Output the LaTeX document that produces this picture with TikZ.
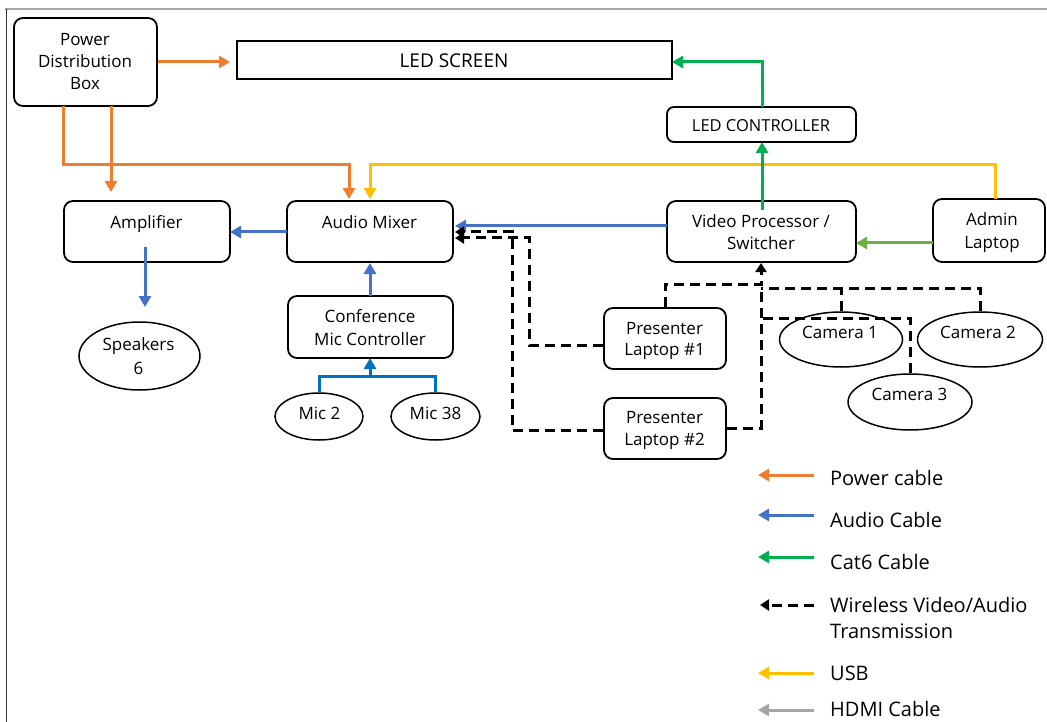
\documentclass[tikz,border=0pt]{standalone}
\usepackage{fontspec}
\setmainfont{Open Sans}
\usetikzlibrary{arrows.meta,shapes.geometric}
\definecolor{cpow}{HTML}{ED7D31}
\definecolor{caud}{HTML}{4472C4}
\definecolor{cmic}{HTML}{0070C0}
\definecolor{ccat}{HTML}{00B050}
\definecolor{clg}{HTML}{70AD47}
\definecolor{cusb}{HTML}{FFC000}
\definecolor{chdmi}{HTML}{A5A5A5}
\begin{document}
\begin{tikzpicture}[x=1pt,y=-1pt,
  box/.style={draw=black,line width=1.8pt,rounded corners=9pt,inner sep=0pt},
  ell/.style={draw=black,line width=1.5pt,ellipse,inner sep=0pt},
  txt/.style={font=\fontsize{17}{22}\selectfont,anchor=base,inner sep=0pt},
  lgt/.style={font=\fontsize{20}{26}\selectfont,anchor=base west,inner sep=0pt},
  tip/.style={-{Triangle[length=11pt,width=12pt]}},
  con/.style={line width=3pt,tip},
  pw/.style={con,draw=cpow},
  au/.style={con,draw=caud},
  mc/.style={line width=3pt,draw=cmic},
  ct/.style={con,draw=ccat},
  lg/.style={con,draw=clg},
  us/.style={con,draw=cusb},
  hd/.style={con,draw=chdmi},
  wl/.style={line width=3pt,draw=black,dash pattern=on 10pt off 6pt},
  wla/.style={wl,-{Triangle[length=9pt,width=11pt]}}]
\useasboundingbox (0,0) rectangle (1047,722);
% frame
\draw[line width=2pt,draw=black!35] (5,9) -- (1047,9);
\draw[line width=1pt,draw=black!80] (6,9) -- (6,722);

% boxes
\node[box,minimum width=143pt,minimum height=88pt] (pdb) at (85.5,62) {};
\node[txt] (pdbt1) at (85,45.7) {Power};
\node[txt] (pdbt2) at (85,67.7) {Distribution};
\node[txt] (pdbt3) at (85,89.7) {Box};

\node[draw=black,line width=1.8pt,inner sep=0pt,minimum width=435pt,minimum height=38pt] (led) at (454.5,60) {};
\node[txt,font=\fontsize{19}{22}\selectfont] (ledt) at (454,67.5) {LED SCREEN};

\node[box,rounded corners=7pt,minimum width=189pt,minimum height=35pt] (ctrl) at (761.5,124.5) {};
\node[txt,font=\fontsize{16.5}{22}\selectfont] (ctrlt) at (761,132) {LED CONTROLLER};

\node[box,minimum width=166pt,minimum height=61pt] (amp) at (147,231.5) {};
\node[txt] (ampt) at (146.5,229) {Amplifier};

\node[box,minimum width=166pt,minimum height=61pt] (mix) at (370,231.5) {};
\node[txt] (mixt) at (369.5,229) {Audio Mixer};

\node[box,minimum width=189pt,minimum height=61pt] (vp) at (761.5,231.5) {};
\node[txt] (vpt1) at (761,227.7) {Video Processor /};
\node[txt] (vpt2) at (761,250) {Switcher};

\node[box,minimum width=112pt,minimum height=63pt] (adm) at (989,230.5) {};
\node[txt] (admt1) at (992,226) {Admin};
\node[txt] (admt2) at (992,248) {Laptop};

\node[box,minimum width=165pt,minimum height=62pt] (cmc) at (370.5,327) {};
\node[txt] (cmct1) at (370,322.7) {Conference};
\node[txt] (cmct2) at (370,345) {Mic Controller};

\node[box,minimum width=122pt,minimum height=61pt] (pl1) at (665,338.5) {};
\node[txt] (pl1t1) at (664.5,334) {Presenter};
\node[txt] (pl1t2) at (664.5,355.7) {Laptop \#1};

\node[box,minimum width=122pt,minimum height=61pt] (pl2) at (665,428.5) {};
\node[txt] (pl2t1) at (664.5,423.3) {Presenter};
\node[txt] (pl2t2) at (664.5,445.7) {Laptop \#2};

% ellipses
\node[ell,minimum width=121pt,minimum height=68pt] (spk) at (139.5,356) {};
\node[txt] (spkt1) at (138.5,350.7) {Speakers};
\node[txt] (spkt2) at (138.5,374) {6};

\node[ell,minimum width=88pt,minimum height=47pt] (m2) at (319,416.5) {};
\node[txt] (m2t) at (319.5,419) {Mic 2};
\node[ell,minimum width=89pt,minimum height=47pt] (m38) at (435.5,416.5) {};
\node[txt] (m38t) at (435.5,419) {Mic 38};

\node[ell,minimum width=123pt,minimum height=55pt] (cam1) at (841,339.5) {};
\node[txt] (cam1t) at (840,338.3) {Camera 1};
\node[ell,minimum width=125pt,minimum height=55pt] (cam2) at (980,339.5) {};
\node[txt] (cam2t) at (978,338.3) {Camera 2};
\node[ell,minimum width=124pt,minimum height=56pt] (cam3) at (910,402) {};
\node[txt] (cam3t) at (909.5,400.7) {Camera 3};

% coordinates
\coordinate (ledin) at (230,62);
\coordinate (pdbA) at (63,106);
\coordinate (pdbB) at (111,106);
\coordinate (ampin) at (111,192);
\coordinate (mixpw) at (349,199);
\coordinate (mixusb) at (370,199);
\coordinate (admtop) at (995,199);
\coordinate (vpl) at (667,226);
\coordinate (mixr) at (455,226);
\coordinate (mixl) at (287,232);
\coordinate (ampr) at (230,232);
\coordinate (ampo) at (145,247);
\coordinate (spkin) at (145,307);
\coordinate (cmctop) at (370,296);
\coordinate (mixbot) at (370,263);
\coordinate (cmcbot) at (370,358);
\coordinate (vptop) at (762,210);
\coordinate (ctrlbot) at (762,142);
\coordinate (ctrltop) at (762,107);
\coordinate (ledr) at (672,62);
\coordinate (adml) at (933,243);
\coordinate (vpr) at (856,243);
\coordinate (vpbot) at (761,263);

% power
\draw[pw] (pdb.east) -- (ledin);
\draw[pw] (pdbA) |- (349,165) -- (mixpw);
\draw[pw] (pdbB) -- (ampin);
% usb
\draw[us] (admtop) |- (370,165) -- (mixusb);
% audio
\draw[au] (vpl) -- (mixr);
\draw[au] (mixl) -- (ampr);
\draw[au] (ampo) -- (spkin);
\draw[au] (cmctop) -- (mixbot);
% mics
\draw[mc] (m2.north) |- (m38.north |- 0,376) -- (m38.north);
\draw[mc,tip] (370,376) -- (cmcbot);
% cat6
\draw[ct] (vptop) -- (ctrlbot);
\draw[ct] (ctrltop) |- (ledr);
\draw[lg] (adml) -- (vpr);
% wireless
\draw[wla] (603,345) -- (529,345) -- (529,238) -- (455,238);
\draw[wla] (603,430) -- (512,430) -- (512,232) -- (455,232);
\draw[wla] (pl1.north) |- (761,284) -- (vpbot);
\draw[wl] (pl2.east |- 0,428) -- (761,428) -- (761,284);
\draw[wl] (cam2.north) |- (761,288);
\draw[wl] (cam1.north) -- (841,288);
\draw[wl] (cam3.north) |- (761,318);

% legend
\draw[pw] (814,475) -- (758,475);
\node[lgt] (lg1) at (830,485) {Power cable};
\draw[au] (814,515) -- (758,515);
\node[lgt] (lg2) at (830,527.7) {Audio Cable};
\draw[ct] (814,557) -- (758,557);
\node[lgt] (lg3) at (830,569) {Cat6 Cable};
\draw[wla] (814,605) -- (760,605);
\node[lgt] (lg4) at (830,612) {Wireless Video/Audio};
\node[lgt] (lg5) at (830,638) {Transmission};
\draw[us] (814,673) -- (758,673);
\node[lgt] (lg6) at (830,680.7) {USB};
\draw[hd] (814,710) -- (758,710);
\node[lgt] (lg7) at (830,716) {HDMI Cable};
\end{tikzpicture}
\end{document}
